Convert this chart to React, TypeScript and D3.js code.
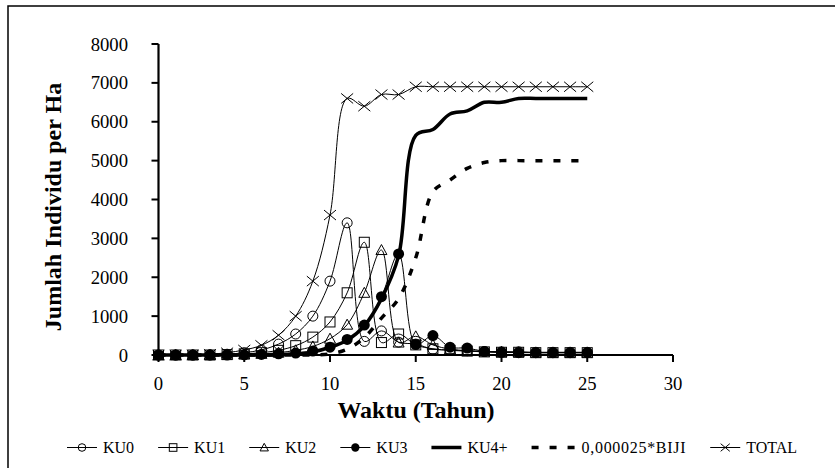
import React from 'react';
import * as d3 from 'd3';

// tahun pengamatan
const years = [0, 1, 2, 3, 4, 5, 6, 7, 8, 9, 10, 11, 12, 13, 14, 15, 16, 17, 18, 19, 20, 21, 22, 23, 24, 25];

const ku0 = [0, 0, 0, 5, 20, 60, 130, 280, 540, 1000, 1900, 3400, 350, 620, 330, 280, 150, 130, 110, 90, 80, 80, 70, 70, 70, 70];
const ku1 = [0, 0, 0, 0, 10, 30, 60, 120, 240, 460, 850, 1600, 2900, 320, 540, 260, 160, 120, 100, 80, 70, 70, 60, 60, 60, 60];
const ku2 = [0, 0, 0, 0, 5, 15, 30, 60, 120, 220, 420, 780, 1600, 2700, 320, 480, 260, 150, 110, 90, 80, 70, 60, 60, 60, 60];
const ku3 = [0, 0, 0, 0, 0, 5, 15, 30, 50, 100, 200, 400, 770, 1500, 2600, 270, 500, 200, 180, 90, 70, 60, 60, 60, 60, 60];
const ku4 = [0, 0, 0, 0, 0, 0, 0, 5, 30, 80, 200, 380, 750, 1450, 2550, 5650, 5800, 6200, 6280, 6500, 6500, 6600, 6600, 6600, 6600, 6600];
const biji = [0, 0, 0, 0, 0, 0, 0, 0, 0, 0, 30, 150, 450, 950, 1450, 2500, 4200, 4500, 4800, 4950, 5000, 5000, 5000, 5000, 5000, 5000];
const total = [0, 0, 5, 20, 60, 130, 250, 510, 1000, 1900, 3600, 6600, 6400, 6700, 6700, 6900, 6900, 6900, 6900, 6900, 6900, 6900, 6900, 6900, 6900, 6900];

const seriesNames = ['KU0', 'KU1', 'KU2', 'KU3', 'KU4+', '0,000025*BIJI', 'TOTAL'];
const xTicks = [0, 5, 10, 15, 20, 25, 30];
const yTicks = [0, 1000, 2000, 3000, 4000, 5000, 6000, 7000, 8000];

const FONT = '"Liberation Serif", "Times New Roman", serif';

type Kind = 'circle' | 'square' | 'triangle' | 'dot' | 'none' | 'dash' | 'cross';

const series: { name: string; values: number[]; kind: Kind }[] = [
  { name: seriesNames[0], values: ku0, kind: 'circle' },
  { name: seriesNames[1], values: ku1, kind: 'square' },
  { name: seriesNames[2], values: ku2, kind: 'triangle' },
  { name: seriesNames[3], values: ku3, kind: 'dot' },
  { name: seriesNames[4], values: ku4, kind: 'none' },
  { name: seriesNames[5], values: biji, kind: 'dash' },
  { name: seriesNames[6], values: total, kind: 'cross' },
];

// marker shapes, s = half size
const Marker = ({ kind, x, y, s }: { kind: Kind; x: number; y: number; s: number }) => {
  if (kind === 'circle')
    return <circle cx={x} cy={y} r={s} fill="none" stroke="black" strokeWidth={1} />;
  if (kind === 'square')
    return <rect x={x - s} y={y - s} width={2 * s} height={2 * s} fill="none" stroke="black" strokeWidth={1} />;
  if (kind === 'triangle')
    return (
      <path
        d={`M${x},${y - s * 1.1}L${x + s * 1.1},${y + s * 0.9}L${x - s * 1.1},${y + s * 0.9}Z`}
        fill="none"
        stroke="black"
        strokeWidth={1}
      />
    );
  if (kind === 'dot') return <circle cx={x} cy={y} r={s * 1.1} fill="black" />;
  if (kind === 'cross')
    return (
      <path
        d={`M${x - s * 1.2},${y - s}L${x + s * 1.2},${y + s}M${x - s * 1.2},${y + s}L${x + s * 1.2},${y - s}`}
        stroke="black"
        strokeWidth={1}
        fill="none"
      />
    );
  return null;
};

const lineStyle = (kind: Kind) => {
  if (kind === 'none') return { strokeWidth: 3.5 };
  if (kind === 'dash') return { strokeWidth: 3.5, strokeDasharray: '7 11' };
  return { strokeWidth: 1 };
};

const measure = (() => {
  const ctx = document.createElement('canvas').getContext('2d');
  return (t: string, font: string) => {
    if (!ctx) return t.length * 8;
    ctx.font = font;
    return ctx.measureText(t).width;
  };
})();

const App = () => {
  const width = 835;
  const height = 468;

  const x = d3.scaleLinear().domain([0, 30]).range([158.5, 673]);
  const y = d3.scaleLinear().domain([0, 8000]).range([355, 44]);

  const line = d3
    .line<number>()
    .x((_, i) => x(years[i]))
    .y((d) => y(d))
    .curve(d3.curveCatmullRom.alpha(0.5));

  // legend layout
  const legendFont = `16px ${FONT}`;
  let lx = 67;
  const legend = series.map((s) => {
    const lineLen = s.kind === 'dash' ? 44 : 30;
    const spacing = s.kind === 'dash' ? 0.7 : 0;
    const item = { ...s, x0: lx, x1: lx + lineLen, tx: lx + lineLen + 6, spacing };
    lx = item.tx + measure(s.name, legendFont) + spacing * s.name.length + 24;
    return item;
  });
  const ly = 447.5;

  return (
    <div style={{ position: 'fixed', left: 0, top: 0 }}>
      <svg width={width} height={height} style={{ display: 'block', background: 'white' }}>
        <rect x={8} y={6} width={900} height={500} fill="white" stroke="black" strokeWidth={1.5} />

        {/* axes */}
        <line x1={x(0)} x2={x(0)} y1={y(8000)} y2={y(0)} stroke="black" strokeWidth={2.2} />
        <line x1={x(0)} x2={x(30)} y1={y(0)} y2={y(0)} stroke="black" strokeWidth={2.2} />
        {yTicks.map((t) => (
          <g key={'y' + t}>
            <line x1={x(0) - 7} x2={x(0)} y1={y(t)} y2={y(t)} stroke="black" strokeWidth={2} />
            <text
              x={128}
              y={y(t)}
              dy="0.35em"
              textAnchor="end"
              fontFamily={FONT}
              fontSize={18.67}
            >
              {t}
            </text>
          </g>
        ))}
        {xTicks.map((t) => (
          <g key={'x' + t}>
            <line x1={x(t)} x2={x(t)} y1={y(0)} y2={y(0) + 7} stroke="black" strokeWidth={2} />
            <text x={x(t)} y={390} textAnchor="middle" fontFamily={FONT} fontSize={18.67}>
              {t}
            </text>
          </g>
        ))}

        <text
          transform="translate(61,207) rotate(-90)"
          textAnchor="middle"
          fontFamily={FONT}
          fontSize={24}
          fontWeight="bold"
        >
          Jumlah Individu per Ha
        </text>
        <text x={416} y={418} textAnchor="middle" fontFamily={FONT} fontSize={24} fontWeight="bold">
          Waktu (Tahun)
        </text>

        {/* series lines */}
        {series.map((s) => (
          <path key={'l' + s.name} d={line(s.values) || ''} fill="none" stroke="black" {...lineStyle(s.kind)} />
        ))}
        {/* markers on top */}
        {series.map((s) =>
          s.values.map((v, i) => (
            <Marker key={s.name + i} kind={s.kind} x={x(years[i])} y={y(v)} s={5} />
          ))
        )}

        {/* legend */}
        {legend.map((s) => (
          <g key={'lg' + s.name}>
            <line x1={s.x0} x2={s.x1} y1={ly} y2={ly} stroke="black" {...lineStyle(s.kind)} />
            <Marker kind={s.kind} x={(s.x0 + s.x1) / 2} y={ly} s={3.8} />
            <text x={s.tx} y={ly + 5.5} fontFamily={FONT} fontSize={16} letterSpacing={s.spacing}>
              {s.name}
            </text>
          </g>
        ))}
      </svg>
    </div>
  );
};

export default App;
